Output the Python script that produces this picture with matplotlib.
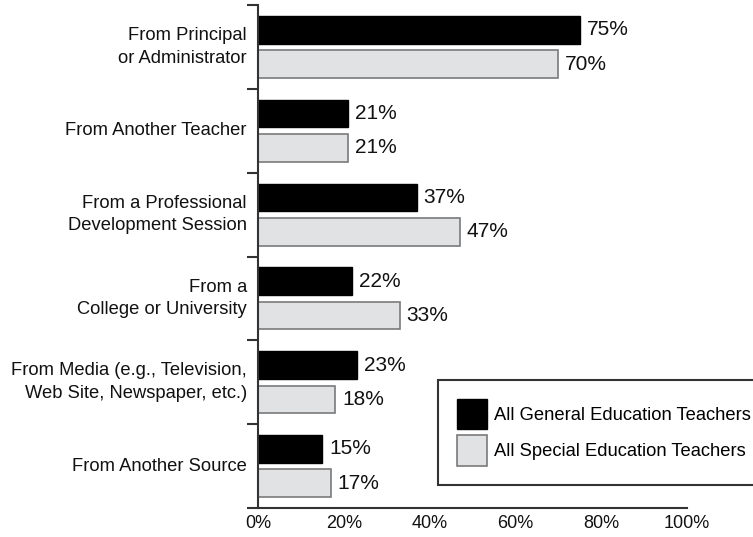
import matplotlib.pyplot as plt
import numpy as np

plt.rcParams['font.family'] = ['Liberation Sans', 'DejaVu Sans']

categories = ["From Principal\nor Administrator", "From Another Teacher",
              "From a Professional\nDevelopment Session", "From a\nCollege or University",
              "From Media (e.g., Television,\nWeb Site, Newspaper, etc.)", "From Another Source"]
general = [75, 21, 37, 22, 23, 15]
special = [70, 21, 47, 33, 18, 17]
series_names = ["All General Education Teachers", "All Special Education Teachers"]
xticks = [0, 20, 40, 60, 80, 100]

fig = plt.figure(figsize=(7.53, 5.37), dpi=100)
ax = fig.add_axes([258 / 753, 1 - 508 / 537, (687 - 258) / 753, (508 - 5) / 537])

y = np.arange(len(categories))
h = 0.33
off = 0.205
b1 = ax.barh(y - off, general, height=h, color='black', edgecolor='black', linewidth=1,
             label=series_names[0])
b2 = ax.barh(y + off, special, height=h, color='#e1e2e4', edgecolor='#7a7a7a', linewidth=1.2,
             label=series_names[1])

for bars, vals in ((b1, general), (b2, special)):
    for bar, v in zip(bars, vals):
        ax.annotate(f"{v}%", (v, bar.get_y() + bar.get_height() / 2),
                    xytext=(5, 0), textcoords='offset points',
                    ha='left', va='center', fontsize=15, color='#111111')

ax.set_xlim(0, 100)
ax.set_ylim(len(categories) - 0.5, -0.5)
ax.set_xticks(xticks)
ax.set_xticklabels([f"{t}%" for t in xticks], fontsize=13, color='#111111')
ax.tick_params(axis='x', length=0, pad=5)

ax.set_yticks(y)
ax.set_yticklabels(categories, fontsize=13.2, color='#111111', linespacing=1.43)
for lab in ax.get_yticklabels():
    lab.set_va('center')
ax.tick_params(axis='y', which='major', length=0, pad=8)
ax.set_yticks(np.arange(-0.5, len(categories)), minor=True)
ax.tick_params(axis='y', which='minor', length=8, width=1.5, color='#333333', direction='out')

for s in ('top', 'right'):
    ax.spines[s].set_visible(False)
for s in ('left', 'bottom'):
    ax.spines[s].set_color('#333333')
    ax.spines[s].set_linewidth(1.5)

leg = fig.legend(loc='upper left', bbox_to_anchor=(438 / 753, 1 - 380 / 537),
                 fontsize=13.2, frameon=True, fancybox=False, edgecolor='black',
                 handlelength=1.64, handleheight=2.15, handletextpad=0.38,
                 labelspacing=0.33, borderpad=1.05, borderaxespad=0)
leg.get_frame().set_linewidth(1.5)

plt.savefig("out.png", dpi=100)
